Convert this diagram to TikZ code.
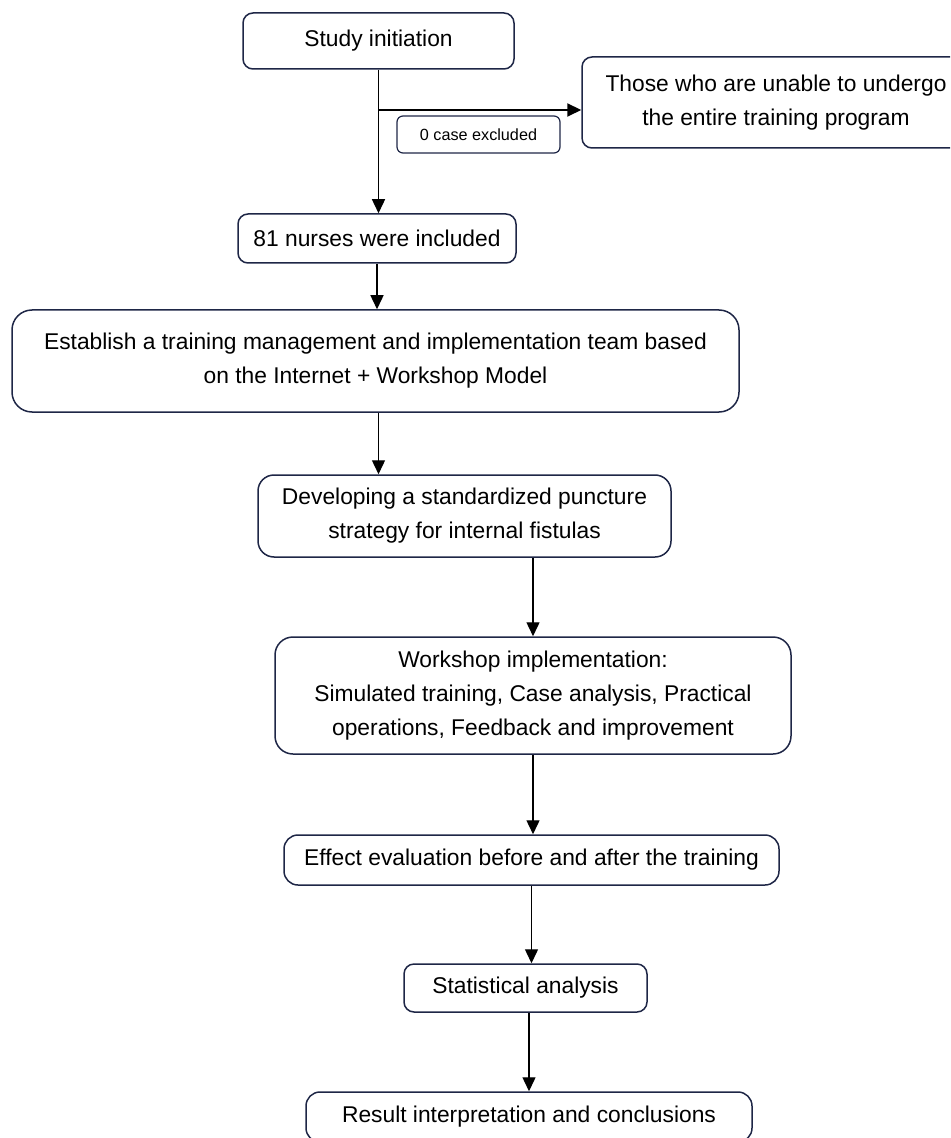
\documentclass[tikz,border=0pt]{standalone}
\usepackage{fontspec}
\setmainfont{Liberation Sans}
\usetikzlibrary{
		positioning,
		arrows.meta
	}
\definecolor{boxline}{RGB}{30,38,70}
\tikzset{
		>={Triangle[length=7pt,width=6.5pt]},
		stepbox/.style={draw=boxline, line width=0.75pt, rounded corners=5pt, align=center, inner sep=0pt, font=\fontsize{11.4}{17}\selectfont},
		notebox/.style={draw=boxline, line width=0.6pt, rounded corners=3pt, inner sep=0pt, font=\fontsize{8.1}{10}\selectfont},
		flow/.style={->, line width=0.7pt}
	}

\begin{document}
\begin{tikzpicture}[x=0.5pt,y=-0.5pt]
		\clip (0,0) rectangle (950,1138);
		% Boxes
		\node[stepbox, minimum width=194pt, minimum height=45.5pt] (excl) at (776,102.5) {Those who are unable to undergo\\the entire training program};
		\node[stepbox, minimum width=135.5pt, minimum height=28pt] (start) at (378.5,41) {Study initiation};
		\node[notebox, minimum width=81.5pt, minimum height=18.5pt] (zero) at (478.5,134.5) {0 case excluded};
		\node[stepbox, minimum width=139pt, minimum height=24.5pt] (incl) at (377,238.5) {81 nurses were included};
		\node[stepbox, rounded corners=10pt, minimum width=363.5pt, minimum height=51pt] (team) at (375.5,361) {Establish a training management and implementation team based\\on the Internet + Workshop Model};
		\node[stepbox, rounded corners=8pt, minimum width=206.5pt, minimum height=41pt] (strat) at (464.5,516) {Developing a standardized puncture\\strategy for internal fistulas};
		\node[stepbox, rounded corners=9pt, minimum width=258pt, minimum height=58.5pt] (work) at (533,695.5) {Workshop implementation:\\Simulated training, Case analysis, Practical\\operations, Feedback and improvement};
		\node[stepbox, rounded corners=7pt, minimum width=247.5pt, minimum height=25pt] (eval) at (531.5,860) {Effect evaluation before and after the training};
		\node[stepbox, minimum width=121.5pt, minimum height=24pt] (stat) at (525.5,988) {Statistical analysis};
		\node[stepbox, rounded corners=7pt, minimum width=223pt, minimum height=25pt] (result) at (529,1117) {Result interpretation and conclusions};
		% Arrows
		\coordinate (split) at (start.south |- 0,110);
		\draw[flow] (start.south) -- (start.south |- incl.north);
		\draw[flow, line width=1pt] (split) -- (split -| excl.west);
		\draw[flow] (incl.south) -- (incl.south |- team.north);
		\draw[flow] (start |- team.south) -- (start |- strat.north);
		\draw[flow] (work |- strat.south) -- (work.north);
		\draw[flow] (work.south) -- (work.south |- eval.north);
		\draw[flow] (eval.south) -- (eval.south |- stat.north);
		\draw[flow] (result |- stat.south) -- (result.north);
	\end{tikzpicture}
\end{document}
